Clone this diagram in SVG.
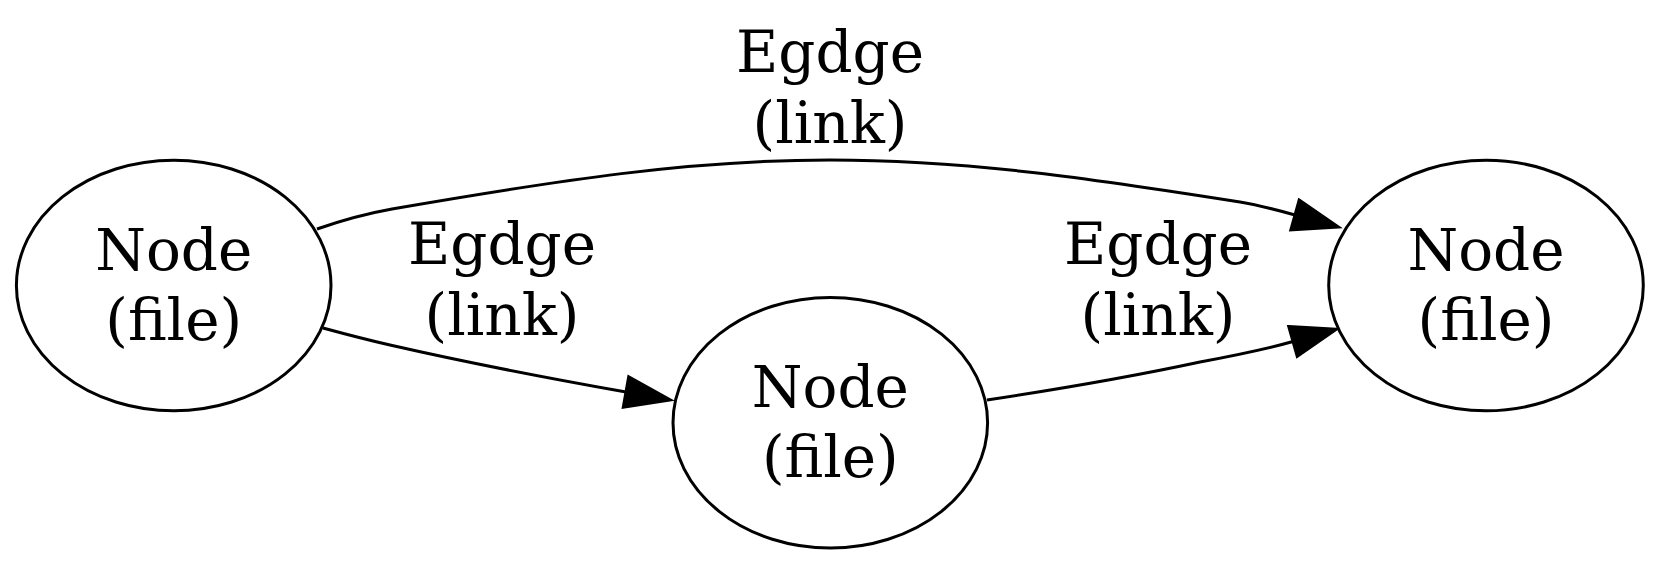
<svg xmlns="http://www.w3.org/2000/svg" width="1660" height="565" viewBox="0 0 1660 565">
<style>
.node ellipse { fill: #fff; stroke: #000; stroke-width: 3; }
.lbl { font-family: "DejaVu Serif", "Liberation Serif", serif; font-size: 58px; fill: #000; text-anchor: middle; }
.edge { fill: none; stroke: #000; stroke-width: 3; marker-end: url(#arr); }
</style>
<defs>
<marker id="arr" markerUnits="userSpaceOnUse" orient="auto" overflow="visible" markerWidth="50" markerHeight="36" refX="0" refY="0">
<path d="M0,-15.5 L45,0 L0,15.5 Z" fill="#000" stroke="#000" stroke-width="3"/>
</marker>
</defs>
<rect width="1660" height="565" fill="#fff"/>
<g id="connectors">
<path class="edge" d="M317,229 C340,221 364,214 392,209 C560,180 690,160 830,160 C970,160 1100,180 1240,202 C1258,205 1277,210 1295,215"/>
<path class="edge" d="M323,328 C345,334 368,340 390,345 C460,361 547,378 626,392"/>
<path class="edge" d="M987,400 C1040,392 1130,377 1200,362 C1232,356 1263,350 1293,341.5"/>
<text class="lbl" x="830" y="71.7">Egdge</text>
<text class="lbl" x="830" y="143.3">(link)</text>
<text class="lbl" x="502" y="264.3">Egdge</text>
<text class="lbl" x="502" y="335">(link)</text>
<text class="lbl" x="1158" y="264.3">Egdge</text>
<text class="lbl" x="1158" y="335">(link)</text>
</g>
<g id="node1" class="node">
<ellipse cx="173.7" cy="285.5" rx="157.3" ry="125.3"/>
<text class="lbl" x="173.7" y="269.5">Node</text>
<text class="lbl" x="173.7" y="340">(file)</text>
</g>
<g id="node2" class="node">
<ellipse cx="830.3" cy="422.7" rx="157.3" ry="125.3"/>
<text class="lbl" x="830.3" y="406.7">Node</text>
<text class="lbl" x="830.3" y="477">(file)</text>
</g>
<g id="node3" class="node">
<ellipse cx="1486" cy="285.5" rx="157.3" ry="125.3"/>
<text class="lbl" x="1486" y="269.5">Node</text>
<text class="lbl" x="1486" y="340">(file)</text>
</g>
</svg>
